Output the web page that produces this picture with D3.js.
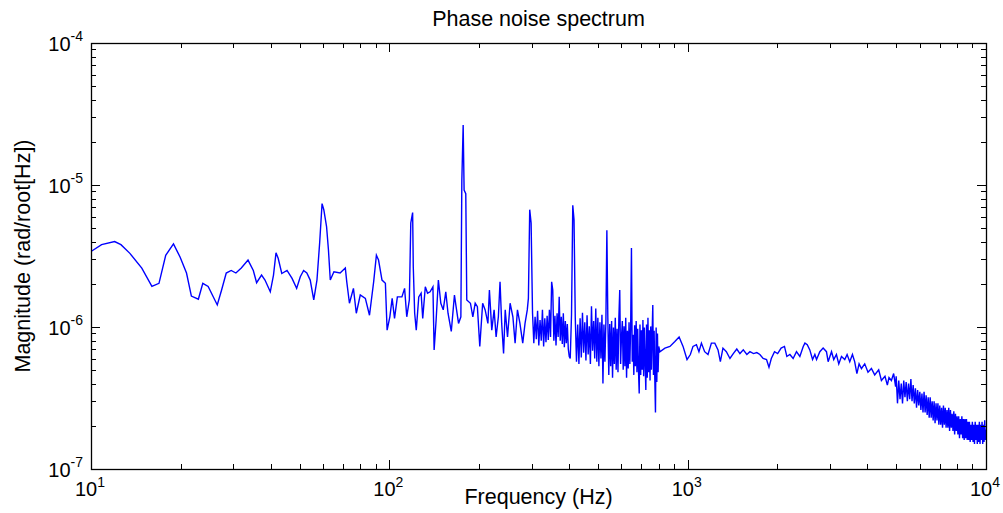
<!doctype html>
<html lang="en">
<head>
<meta charset="utf-8">
<title>Phase noise spectrum</title>
<script src="https://cdn.jsdelivr.net/npm/d3@7"></script>
<style>
body { margin: 0; background: #fff; }
text { font-family: "Liberation Sans", Arial, sans-serif; fill: #000; }
</style>
</head>
<body>
<div id="chart"></div>
<script>

// Magnitudes are in micro rad/root(Hz) (x 1e-6).
// 10 - 132 Hz
var freqA = [10.0,10.85,12.0,12.6,13.5,14.8,16.0,16.9,17.8,18.9,19.9,20.9,21.7,22.9,23.7,24.7,26.5,27.4,28.4,29.5,
  30.6,31.9,33.6,35.0,35.9,37.3,38.3,39.9,40.9,41.7,42.4,43.6,45.4,47.2,48.9,50.3,51.6,52.9,54.3,55.8,
  57.2,58.4,59.5,60.3,61.6,62.5,63.4,65.2,68.4,71.2,72.0,73.5,75.8,77.5,79.9,83.1,85.8,88.6,90.5,92.0,
  94.5,97.0,98.3,100.4,102.2,104.1,106.4,110.2,112.5,114.4,116.7,118.0,119.7,120.3,121.6,123.1,125.5,127.8,129.4,132.0];
var magA = [3.4,3.8,4.0,3.8,3.3,2.6,1.93,2.03,3.2,3.85,3.1,2.4,1.65,1.57,2.03,1.93,1.43,1.82,2.4,2.5,
  2.4,2.6,2.96,2.5,2.05,2.32,2.14,1.77,2.32,3.33,3.05,2.38,2.5,2.2,1.87,2.26,2.5,2.4,2.14,1.55,
  2.14,3.9,7.4,6.7,5.1,3.5,2.14,2.45,2.4,2.6,2.08,1.47,1.87,1.25,1.68,1.59,1.21,2.08,3.2,2.96,
  2.14,2.03,0.95,1.18,1.59,1.15,1.63,1.63,1.87,1.18,1.55,5.4,6.4,2.66,1.25,0.95,1.63,1.73,1.15,1.92];

// 134 - 299 Hz
var freqB = [134.3,137,140,141.3,143.5,146,148.8,151.6,154.6,157.3,161.3,165.3,167.4,170.6,173.7,175,176.8,178.1,180.4,181.8,
  187,190.5,194,197.3,201,205.5,209.5,214,216.5,220.5,224.5,228,232,235,238,241.5,244.6,249,254,259.5,
  264,268.8,274,280,285,290,292.5,295.5,298.7];
var magB = [1.73,1.77,1.92,0.69,1.12,2.14,1.47,1.32,1.77,1.25,0.93,1.68,1.39,1.06,1.18,10.8,26.5,9.2,8.7,1.55,
  1.47,1.18,1.47,1.39,0.73,1.47,1.32,1.06,1.82,0.95,1.32,0.85,1.18,2.08,1.06,0.65,1.32,0.85,1.47,1.18,
  0.77,1.32,1.06,0.77,1.06,1.32,1.59,6.7,5.4];

// 302 - 401 Hz
var freqB2 = [302,305,308,311,314,317,320,323,326,329,332,335,338,341,344,347,350,353,356,359,
  362,365,368,371,374,377,380,383,386,389,392,395,398,401];
var magB2 = [1.25,0.77,1.18,0.82,1.3,0.74,1.12,0.80,1.32,0.73,1.15,0.78,1.2,0.81,1.32,0.85,2.08,1.82,0.80,1.2,
  0.74,1.25,0.85,1.63,0.80,1.18,0.76,1.25,0.72,1.1,0.77,1.05,0.70,0.62];

// 404 - 800 Hz (dense band)
var freqC = [404,408,412,416,420,424,428,432,436,440,444,448,452,456,460,464,468,472,476,480,
  484,488,492,496,500,504,508,512,516,520,524,528,532,536,540,544,548,552,556,560,
  564,568,572,576,580,584,588,592,596,600,604,608,612,616,620,624,628,632,636,640,
  644,648,652,656,660,664,668,672,676,680,684,688,692,696,700,704,708,712,716,720,
  724,728,732,736,740,744,748,752,756,760,764,768,772,776,780,784,788,792,796,800];
var magC = [0.60,1.22,7.2,5.7,1.16,0.57,1.04,0.55,1.15,0.61,1.26,0.66,1.08,0.58,1.21,0.64,1.01,0.55,1.40,0.68,
  1.10,0.60,1.35,0.57,1.16,0.53,1.08,0.60,1.22,0.40,1.04,0.57,1.10,4.8,1.16,0.46,1.05,0.53,1.10,0.44,
  0.99,0.55,1.16,0.50,0.97,0.48,1.15,1.82,0.55,0.85,1.10,0.50,1.01,0.53,1.16,0.44,0.94,0.51,1.08,0.55,
  0.99,3.6,0.57,0.88,0.46,1.03,0.53,1.10,0.48,0.97,0.50,0.34,1.04,0.46,0.95,0.50,1.12,0.45,0.99,0.57,
  0.36,1.04,0.44,1.16,0.48,0.95,0.42,1.01,0.50,0.88,1.43,0.46,0.94,0.43,0.25,0.99,0.41,0.90,0.48,0.73];

// 807 Hz - 4977 Hz
var freqD = [807,839,872,906,936,965,995,1021,1042,1070,1091,1112,1140,1170,1201,1233,1264,1287,1313,1348,
  1386,1422,1461,1497,1536,1579,1617,1662,1705,1746,1790,1838,1873,1907,1955,2003,2057,2111,2150,2201,
  2257,2316,2377,2440,2472,2517,2567,2622,2669,2704,2773,2845,2919,2957,3035,3088,3152,3210,3278,3362,
  3423,3494,3567,3629,3692,3755,3824,3922,4022,4130,4236,4368,4461,4586,4670,4729,4818,4903,4977];
var magD = [0.67,0.71,0.73,0.79,0.85,0.73,0.59,0.64,0.73,0.75,0.67,0.77,0.67,0.64,0.77,0.77,0.69,0.57,0.71,0.67,
  0.60,0.65,0.70,0.65,0.69,0.64,0.67,0.65,0.66,0.64,0.60,0.59,0.52,0.60,0.67,0.65,0.71,0.73,0.62,0.64,
  0.60,0.67,0.62,0.73,0.77,0.75,0.69,0.59,0.64,0.59,0.67,0.71,0.67,0.57,0.67,0.59,0.64,0.55,0.62,0.59,
  0.64,0.57,0.64,0.57,0.47,0.55,0.51,0.55,0.48,0.51,0.46,0.50,0.42,0.45,0.39,0.44,0.42,0.47,0.38];

// 5 kHz - 10 kHz (dense band)
var freqE = [5000,5050,5100,5150,5200,5250,5300,5350,5400,5450,5500,5550,5600,5650,5700,5750,5800,5850,5900,5950,
  6000,6050,6100,6150,6200,6250,6300,6350,6400,6450,6500,6550,6600,6650,6700,6750,6800,6850,6900,6950,
  7000,7050,7100,7150,7200,7250,7300,7350,7400,7450,7500,7550,7600,7650,7700,7750,7800,7850,7900,7950,
  8000,8050,8100,8150,8200,8250,8300,8350,8400,8450,8500,8550,8600,8650,8700,8750,8800,8850,8900,8950,
  9000,9050,9100,9150,9200,9250,9300,9350,9400,9450,9500,9550,9600,9650,9700,9750,9800,9850,9900,9950,10000];
var magE = [0.45,0.29,0.42,0.31,0.40,0.29,0.42,0.32,0.41,0.30,0.40,0.31,0.43,0.30,0.39,0.29,0.37,0.27,0.36,0.28,
  0.35,0.26,0.34,0.25,0.35,0.25,0.33,0.24,0.32,0.23,0.32,0.23,0.30,0.22,0.30,0.21,0.29,0.22,0.29,0.205,
  0.28,0.205,0.27,0.195,0.28,0.205,0.27,0.195,0.26,0.195,0.27,0.185,0.26,0.195,0.245,0.185,0.255,0.175,0.245,0.185,
  0.235,0.175,0.235,0.165,0.225,0.175,0.235,0.165,0.225,0.16,0.225,0.165,0.225,0.16,0.215,0.16,0.215,0.155,0.205,0.16,
  0.215,0.155,0.205,0.15,0.215,0.16,0.205,0.15,0.205,0.155,0.215,0.15,0.205,0.16,0.215,0.15,0.205,0.155,0.22,0.16,0.19];

var xMajor = [10, 100, 1000, 10000];
var xExp = ["1", "2", "3", "4"];
var yMajor = [1e-7, 1e-6, 1e-5, 1e-4];
var yExp = ["-7", "-6", "-5", "-4"];

var width = 1003;
var height = 513;
var plotLeft = 91, plotRight = 986, plotTop = 43, plotBottom = 469;

var svg = d3.select("#chart").append("svg")
    .attr("width", width)
    .attr("height", height)
    .style("display", "block");

svg.append("rect").attr("width", width).attr("height", height).attr("fill", "#fff");

var x = d3.scaleLog().domain([10, 10000]).range([plotLeft, plotRight]);
var y = d3.scaleLog().domain([1e-7, 1e-4]).range([plotBottom, plotTop]);

// join the segments into one series
var points = [];
[[freqA, magA], [freqB, magB], [freqB2, magB2], [freqC, magC], [freqD, magD], [freqE, magE]].forEach(function(s) {
	for (var i = 0; i < s[0].length; i++) {
		points.push({f: s[0][i], m: s[1][i] * 1e-6});
	}
});

svg.append("clipPath").attr("id", "plotclip")
	.append("rect")
	.attr("x", plotLeft).attr("y", plotTop)
	.attr("width", plotRight - plotLeft).attr("height", plotBottom - plotTop);

var line = d3.line()
	.x(function(d) { return x(d.f); })
	.y(function(d) { return y(d.m); });

svg.append("path")
	.datum(points)
	.attr("clip-path", "url(#plotclip)")
	.attr("fill", "none")
	.attr("stroke", "#0000ff")
	.attr("stroke-width", 1.4)
	.attr("stroke-linejoin", "miter")
	.attr("d", line);

// minor + major tick values
var xTicks = [], yTicks = [];
[10, 100, 1000].forEach(function(d) {
	for (var k = 1; k < 10; k++) xTicks.push({v: k * d, major: k == 1});
});
xTicks.push({v: 10000, major: true});
[1e-7, 1e-6, 1e-5].forEach(function(d) {
	for (var k = 1; k < 10; k++) yTicks.push({v: k * d, major: k == 1});
});
yTicks.push({v: 1e-4, major: true});

var ticks = svg.append("g").attr("stroke", "#000").attr("stroke-width", 1);

xTicks.forEach(function(t) {
	var px = Math.round(x(t.v)) + 0.5;
	var len = t.major ? 9 : 5;
	ticks.append("line").attr("x1", px).attr("x2", px).attr("y1", plotBottom).attr("y2", plotBottom - len);
	ticks.append("line").attr("x1", px).attr("x2", px).attr("y1", plotTop).attr("y2", plotTop + len);
});
yTicks.forEach(function(t) {
	var py = Math.round(y(t.v)) + 0.5;
	var len = t.major ? 9 : 5;
	ticks.append("line").attr("x1", plotLeft).attr("x2", plotLeft + len).attr("y1", py).attr("y2", py);
	ticks.append("line").attr("x1", plotRight).attr("x2", plotRight - len).attr("y1", py).attr("y2", py);
});

svg.append("rect")
	.attr("x", plotLeft + 0.5).attr("y", plotTop + 0.5)
	.attr("width", plotRight - plotLeft).attr("height", plotBottom - plotTop)
	.attr("fill", "none")
	.attr("stroke", "#000")
	.attr("stroke-width", 1.3);

// tick labels: 10 with exponent
xMajor.forEach(function(v, i) {
	var t = svg.append("text")
		.attr("x", x(v) - 1)
		.attr("y", 496)
		.attr("text-anchor", "middle");
	t.append("tspan").attr("font-size", "20px").text("10");
	t.append("tspan").attr("font-size", "14px").attr("dy", -9).text(xExp[i]);
});
yMajor.forEach(function(v, i) {
	var t = svg.append("text")
		.attr("x", 83)
		.attr("y", y(v) + 8)
		.attr("text-anchor", "end");
	t.append("tspan").attr("font-size", "20px").text("10");
	t.append("tspan").attr("font-size", "14px").attr("dy", -10).text(yExp[i]);
});

svg.append("text")
	.attr("x", (plotLeft + plotRight) / 2)
	.attr("y", 26)
	.attr("text-anchor", "middle")
	.attr("font-size", "21.5px")
	.text("Phase noise spectrum");

svg.append("text")
	.attr("x", (plotLeft + plotRight) / 2)
	.attr("y", 504)
	.attr("text-anchor", "middle")
	.attr("font-size", "21.5px")
	.text("Frequency (Hz)");

svg.append("text")
	.attr("transform", "translate(30," + ((plotTop + plotBottom) / 2) + ") rotate(-90)")
	.attr("text-anchor", "middle")
	.attr("font-size", "21.5px")
	.text("Magnitude (rad/root[Hz])");

</script>
</body>
</html>
